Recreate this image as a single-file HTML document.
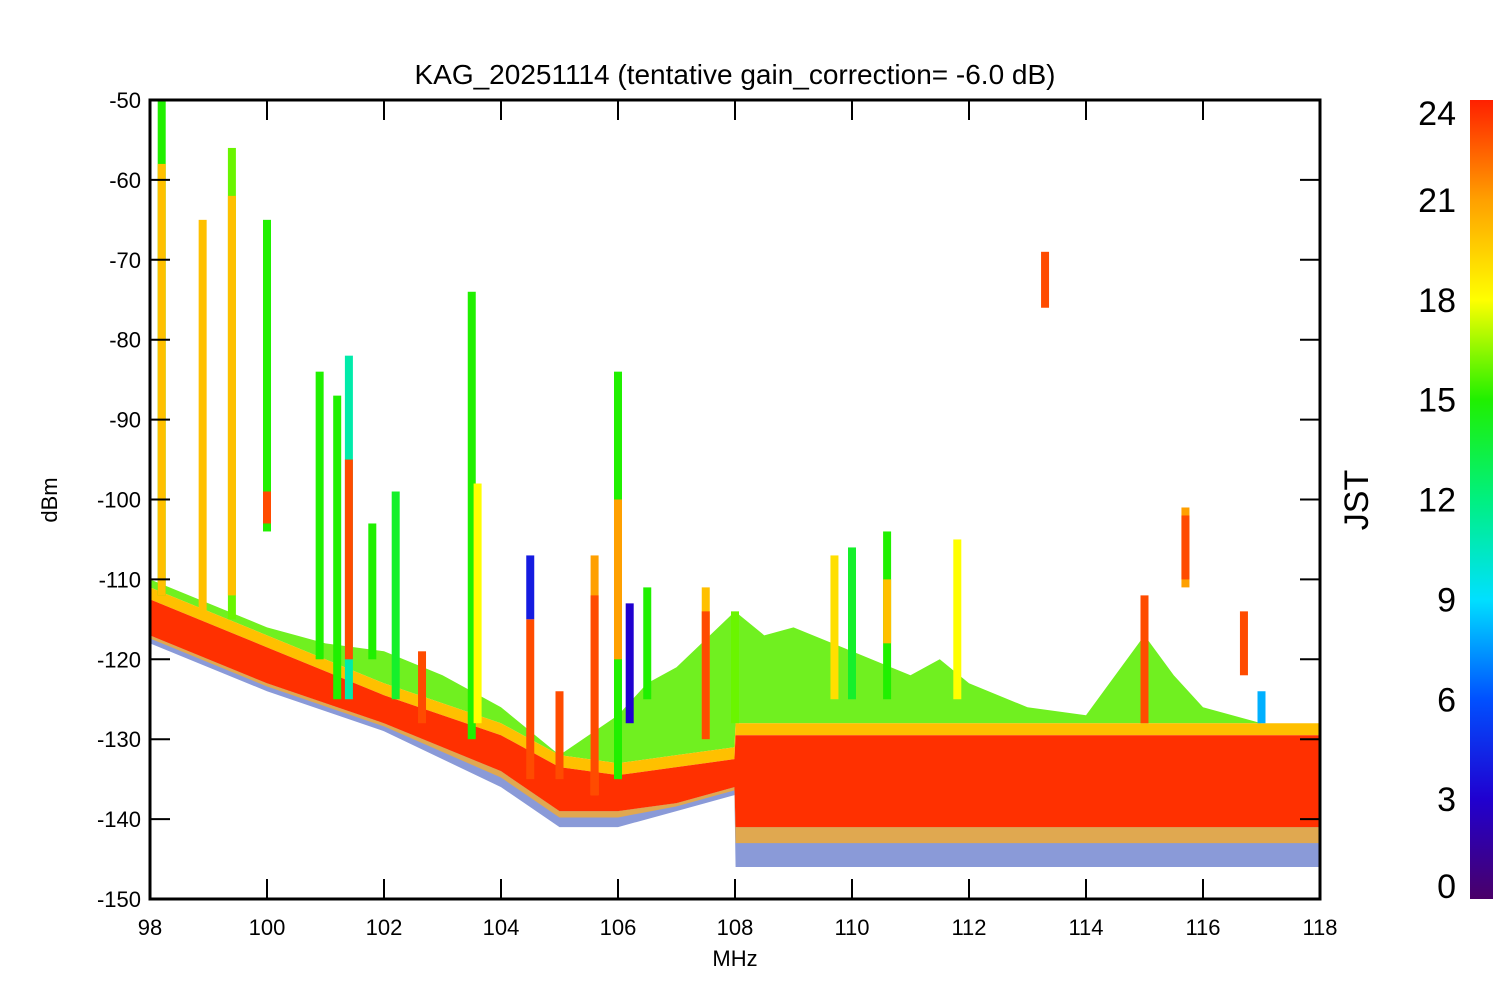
<!DOCTYPE html>
<html><head><meta charset="utf-8">
<style>
body{margin:0;background:#fff;}
svg text{font-family:"Liberation Sans",sans-serif;fill:#000;}
</style></head>
<body>
<svg id="chart" width="1500" height="1000" viewBox="0 0 1500 1000" xmlns="http://www.w3.org/2000/svg">
<defs>
<linearGradient id="cbar" x1="0" y1="1" x2="0" y2="0">
<stop offset="0" stop-color="#4a0068"/>
<stop offset="0.125" stop-color="#2000d0"/>
<stop offset="0.25" stop-color="#0050ff"/>
<stop offset="0.375" stop-color="#00e0ff"/>
<stop offset="0.5" stop-color="#00f080"/>
<stop offset="0.625" stop-color="#20f000"/>
<stop offset="0.75" stop-color="#ffff00"/>
<stop offset="0.875" stop-color="#ffa000"/>
<stop offset="1" stop-color="#ff2000"/>
</linearGradient>
<clipPath id="plotclip"><rect x="150" y="100" width="1170" height="799"/></clipPath>
</defs>
<text x="735" y="84" font-size="28" text-anchor="middle">KAG_20251114 (tentative gain_correction= -6.0 dB)</text>
<g id="plot" clip-path="url(#plotclip)"></g>
<g id="axes"></g>
<text x="735" y="966" font-size="22" text-anchor="middle">MHz</text>
<text transform="translate(57,500) rotate(-90)" font-size="22" text-anchor="middle">dBm</text>
<rect x="1470" y="100" width="23" height="799" fill="url(#cbar)"/>
<text transform="translate(1368,500) rotate(-90)" font-size="34" text-anchor="middle">JST</text>
<g id="cbticks"></g>
</svg>
<script>
const bandFreq   = [98,100,102,104,105,106,107,107.99,108.01,110,112,114,116,118];
const redTop     = [-111,-117,-123,-128,-132,-133,-132,-131,-128,-128,-128,-128,-128,-128];
const redBottom  = [-117,-123,-128,-134,-139,-139,-138,-136,-141,-141,-141,-141,-141,-141];
const lowBottom  = [-118,-124,-129,-136,-141,-141,-139,-137,-146,-146,-146,-146,-146,-146];
const greenFreq  = [98,100,101,102,103,104,105,106,106.5,107,108,108.5,109,110,111,111.5,112,113,114,114.5,115,115.5,116,117,118];
const greenTop   = [-110,-116,-118,-119,-122,-126,-132,-127,-123,-121,-114,-117,-116,-119,-122,-120,-123,-126,-127,-122,-117,-122,-126,-128,-128];
// spikes: frequency, top dBm, bottom dBm, JST hour
const spikeFreq  = [98.2,98.2,98.9,99.4,99.4,100,100,100.9,101.2,101.4,101.4,101.8,102.2,102.65,103.5,103.6,104.5,104.5,105,105.6,105.6,106,106,106.2,106.5,107.5,107.5,108,109.7,110,110.6,110.6,111.8,113.3,115,115.7,115.7,116.7,117];
const spikeTop   = [-50,-58,-65,-56,-62,-65,-99,-84,-87,-82,-95,-103,-99,-119,-74,-98,-107,-115,-124,-107,-112,-84,-100,-113,-111,-111,-114,-114,-107,-106,-104,-110,-105,-69,-112,-101,-102,-114,-124];
const spikeBot   = [-112,-112,-115,-115,-112,-104,-103,-120,-125,-125,-120,-120,-125,-128,-130,-128,-115,-135,-135,-137,-137,-135,-120,-128,-125,-130,-130,-128,-125,-125,-125,-118,-125,-76,-128,-111,-110,-122,-128];
const spikeHour  = [15,20,20,16,20,15,23,15,15,11,23,15,14,23,15,18,4,23,23,21,23,15,21,3,15,20,23,16,19,14,15,20,18,23,23,21,23,23,8];
const xTicks = [98,100,102,104,106,108,110,112,114,116,118];
const yTicks = [-50,-60,-70,-80,-90,-100,-110,-120,-130,-140,-150];
const cbTicks = [0,3,6,9,12,15,18,21,24];

const X = f => 150 + (f-98)/20*1170;
const Y = d => 100 + (-50-d)/100*799;
const stops=[[0,[74,0,104]],[3,[32,0,208]],[6,[0,80,255]],[9,[0,224,255]],[12,[0,240,128]],[15,[32,240,0]],[18,[255,255,0]],[21,[255,160,0]],[24,[255,32,0]]];
function cmap(h){for(let i=0;i<stops.length-1;i++){const a=stops[i],b=stops[i+1];if(h<=b[0]){const t=(h-a[0])/(b[0]-a[0]);const c=a[1].map((v,k)=>Math.round(v+(b[1][k]-v)*t));return `rgb(${c})`;}}return 'rgb(255,32,0)';}
const NS='http://www.w3.org/2000/svg';
const plot=document.getElementById('plot'),axes=document.getElementById('axes'),cb=document.getElementById('cbticks');
function mk(tag,attrs,parent){const e=document.createElementNS(NS,tag);for(const k in attrs)e.setAttribute(k,attrs[k]);parent.appendChild(e);return e;}
function poly(fx,top,fb,bot,fill,name){
  let pts=fx.map((f,i)=>X(f)+','+Y(top[i]));
  for(let i=fb.length-1;i>=0;i--)pts.push(X(fb[i])+','+Y(bot[i]));
  const p=mk('polygon',{points:pts.join(' '),fill:fill},plot);
  
  
}
poly(bandFreq,redBottom,bandFreq,lowBottom,'#8a9ad8','low-scatter-band');
poly(bandFreq,redBottom,bandFreq,redBottom.map((v,i)=>v+(lowBottom[i]-v)*0.4),'#e0a850','low-mixed-band');
poly(greenFreq,greenTop,bandFreq,redTop,'#70f020','green-noise-band');
poly(bandFreq,redTop,bandFreq,redTop.map(v=>v-1.5),'#ffc000','yellow-edge-band');
poly(bandFreq,redTop.map(v=>v-1.5),bandFreq,redBottom,'#ff3000','red-noise-band');
spikeFreq.forEach((f,i)=>{
  const r=mk('rect',{x:X(f)-4,y:Y(spikeTop[i]),width:8,height:Y(spikeBot[i])-Y(spikeTop[i]),fill:cmap(spikeHour[i])},plot);
  
  
});
mk('rect',{x:150,y:100,width:1170,height:799,fill:'none',stroke:'#000','stroke-width':3},axes);
xTicks.forEach(t=>{
  const x=X(t);
  mk('line',{x1:x,y1:899,x2:x,y2:879,stroke:'#000','stroke-width':2},axes);
  mk('line',{x1:x,y1:100,x2:x,y2:120,stroke:'#000','stroke-width':2},axes);
  const tx=mk('text',{x:x,y:935,'font-size':22,'text-anchor':'middle'},axes);
  tx.textContent=t;
  
  
});
yTicks.forEach(t=>{
  const y=Y(t);
  mk('line',{x1:150,y1:y,x2:170,y2:y,stroke:'#000','stroke-width':2},axes);
  mk('line',{x1:1320,y1:y,x2:1300,y2:y,stroke:'#000','stroke-width':2},axes);
  const tx=mk('text',{x:141,y:y+8,'font-size':22,'text-anchor':'end'},axes);
  tx.textContent=t;
  
  
});
cbTicks.forEach(t=>{
  let y=100+(24-t)/24*799;
  y=Math.min(Math.max(y,113),886);
  const tx=mk('text',{x:1456,y:y+12,'font-size':34,'text-anchor':'end'},cb);
  tx.textContent=t;
  
  
});
</script>
</body></html>
